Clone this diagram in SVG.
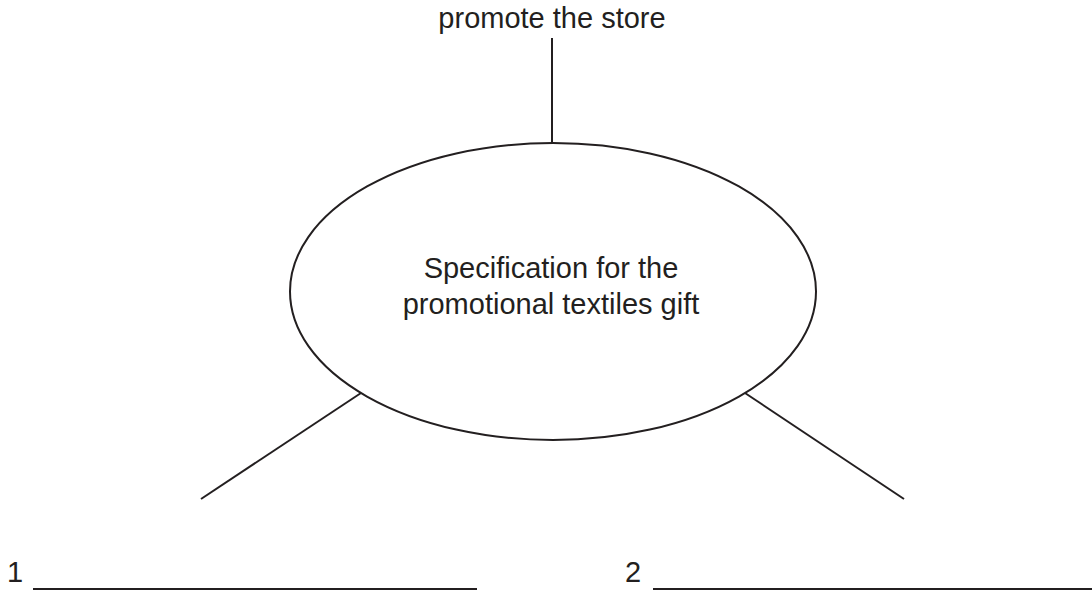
<svg xmlns="http://www.w3.org/2000/svg" width="1092" height="592" viewBox="0 0 1092 592">
<style>
text{font-family:"Liberation Sans",Arial,sans-serif;font-size:29px;fill:#231f20}
.ln{stroke:#231f20;stroke-width:2;fill:none}
</style>
<rect width="1092" height="592" fill="#fff"/>
<g id="connectors">
<line class="ln" x1="552" y1="38" x2="552" y2="143"/>
<line class="ln" x1="361" y1="393" x2="201" y2="499"/>
<line class="ln" x1="745" y1="393" x2="904" y2="499"/>
</g>
<g id="top-label"><text x="552" y="28" text-anchor="middle">promote the store</text></g>
<g id="center-node">
<ellipse class="ln" cx="553" cy="291.5" rx="263" ry="148.5" fill="#fff"/>
<text x="551" y="278" text-anchor="middle">Specification for the</text>
<text x="551" y="314" text-anchor="middle">promotional textiles gift</text>
</g>
<g id="answer-1">
<text x="7" y="582">1</text>
<line class="ln" x1="33" y1="589" x2="477" y2="589"/>
</g>
<g id="answer-2">
<text x="625" y="582">2</text>
<line class="ln" x1="653" y1="589" x2="1092" y2="589"/>
</g>
</svg>
